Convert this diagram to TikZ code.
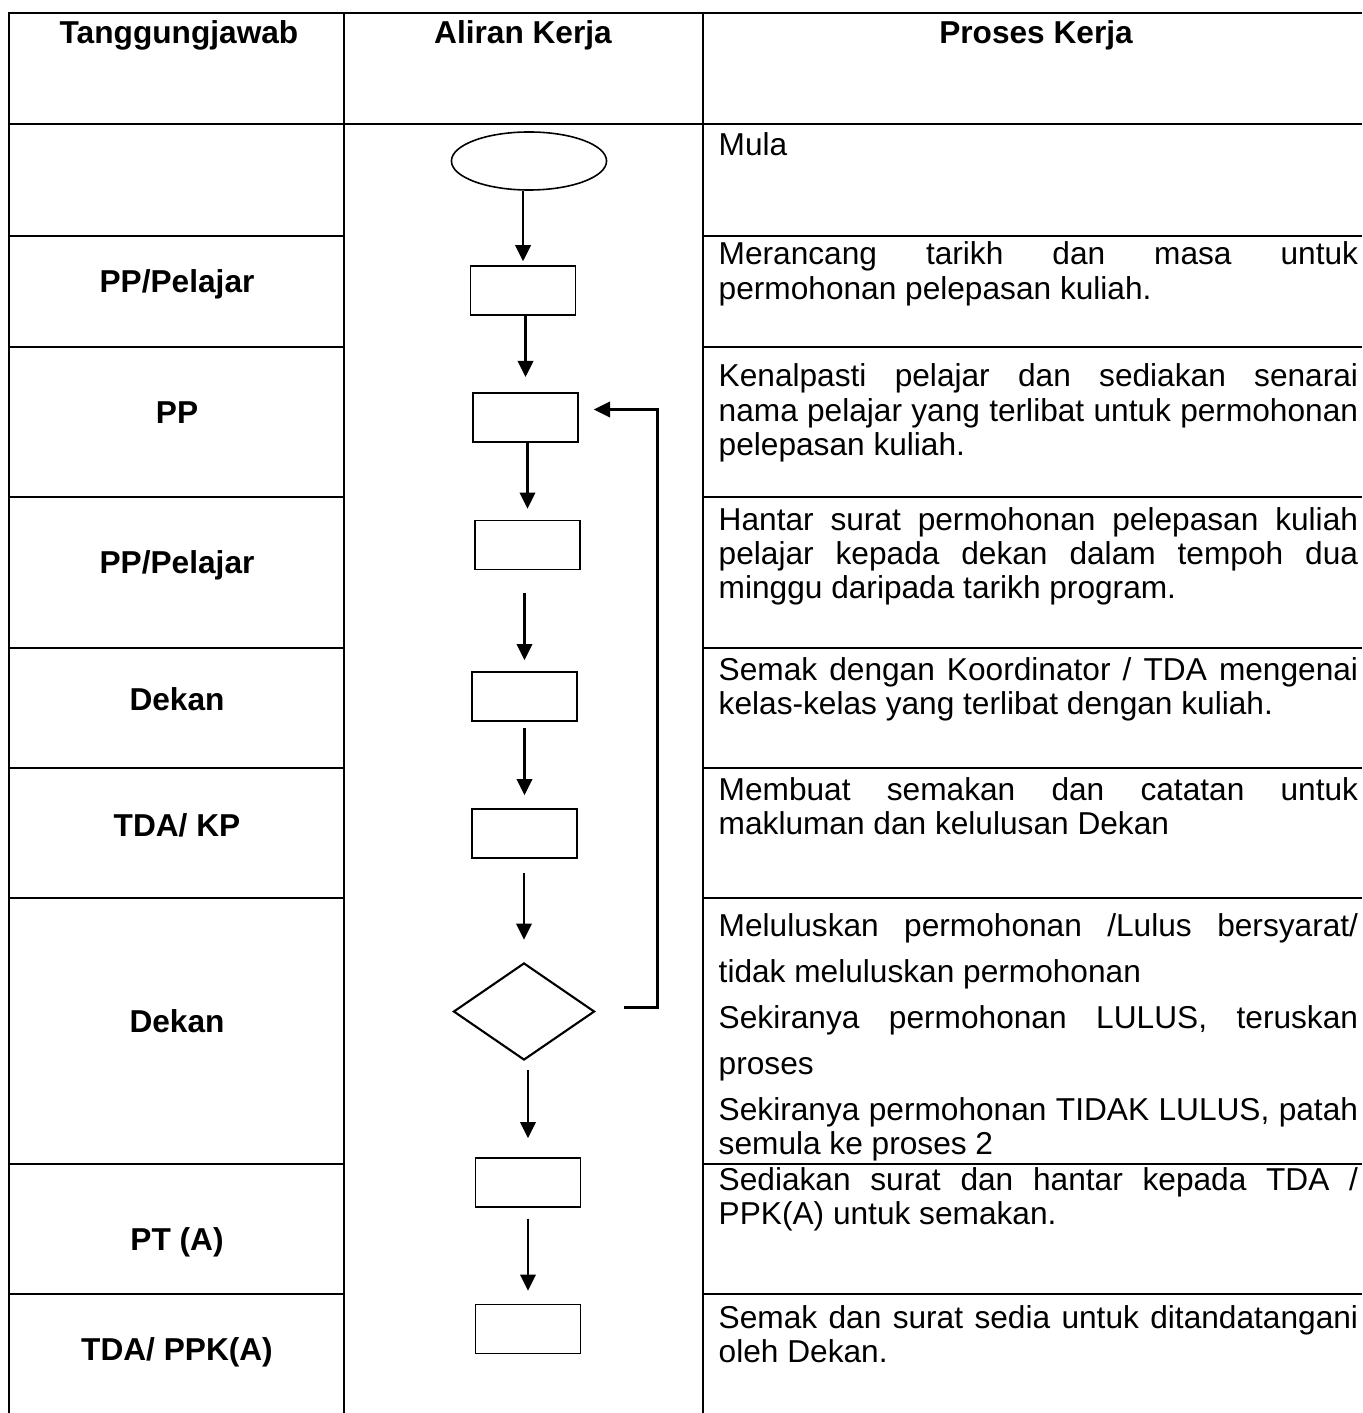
\documentclass[tikz,border=0pt]{standalone}
\usepackage{fontspec}
\setmainfont{Liberation Sans}
\usetikzlibrary{shapes,arrows.meta,positioning,calc}

\begin{document}
\begin{tikzpicture}[x=0.01cm, y=-0.01cm,
    grid/.style={line width=0.7pt},
    box/.style={draw, line width=0.45pt, minimum width=1.05cm, minimum height=0.49cm, inner sep=0},
    flow/.style={-{Triangle[length=4.6pt,width=4.4pt]}, line width=0.65pt},
    role/.style={anchor=base, inner sep=0, font=\fontsize{9}{10}\selectfont\bfseries},
    desc/.style={anchor=base west, inner sep=0, text width=6.39cm, align=justify, font=\fontsize{9}{9.7}\selectfont}]
  \useasboundingbox (0,0) rectangle (1362,1413);

  % table
  \draw[grid] (9,1413) -- (9,13) -- (1362,13);
  \draw[grid] (9,124) -- (1362,124);
  \draw[grid] (344,13) -- (344,1413);
  \draw[grid] (703,13) -- (703,1413);
  \foreach \y in {236,347,497,648,768,898,1164,1294} {
    \draw[grid] (9,\y) -- (344,\y);
    \draw[grid] (703,\y) -- (1362,\y);
  }

  % headers
  \node[role] (h1) at (179,44) {Tanggungjawab};
  \node[role] (h2) at (523,44) {Aliran Kerja};
  \node[role] (h3) at (1036,44) {Proses Kerja};

  % tanggungjawab
  \foreach \y/\t [count=\i] in {293/{PP/Pelajar}, 424/PP, 573/{PP/Pelajar}, 710/Dekan,
      836/{TDA/ KP}, 1032/Dekan, 1250/PT (A), 1360/{TDA/ PPK(A)}}
    \node[role] (role\i) at (177,\y) {\t};

  % aliran kerja
  \node[ellipse, draw, line width=0.45pt, minimum width=1.55cm, minimum height=0.58cm, inner sep=0] (mula) at (529,161) {};
  \node[box] (b1) at (523,290.5) {};
  \node[box] (b2) at (525.5,417.5) {};
  \node[box] (b3) at (527.5,545) {};
  \node[box] (b4) at (524.5,696.5) {};
  \node[box] (b5) at (524.5,833.5) {};
  \node[diamond, draw, line width=0.6pt, minimum width=1.41cm, minimum height=0.97cm, inner sep=0] (dec) at (524,1011.5) {};
  \node[box] (b6) at (528,1182.5) {};
  \node[box] (b7) at (528,1329) {};

  \foreach \a/\b/\s/\e in {mula/b1/0pt/1.1pt, b1/b2/0pt/4.3pt, b2/b3/0pt/3.1pt, b3/b4/6.5pt/3.1pt,
      b4/b5/1.7pt/3.7pt, b5/dec/4pt/6.3pt, dec/b6/2.6pt/5.4pt, b6/b7/3.1pt/3.7pt}
    \draw[flow, shorten <=\s, shorten >=\e] (\b |- \a.south) -- (\b.north);

  \draw[flow, line width=0.7pt] ($(dec.east)+(28,-4)$) -- ++(34,0) |- ($(b2.east)+(15,-8)$);

  % proses kerja
  \node[desc] (d0) at (718,156) {Mula};
  \node[desc] (d1) at (718,265) {Merancang tarikh dan masa untuk\linebreak permohonan pelepasan kuliah.};
  \node[desc] (d2) at (718,387) {Kenalpasti pelajar dan sediakan senarai\linebreak nama pelajar yang terlibat untuk permohonan\linebreak pelepasan kuliah.};
  \node[desc] (d3) at (718,530) {Hantar surat permohonan pelepasan kuliah\linebreak pelajar kepada dekan dalam tempoh dua\linebreak minggu daripada tarikh program.};
  \node[desc] (d4) at (718,680) {Semak dengan Koordinator / TDA mengenai\linebreak kelas-kelas yang terlibat dengan kuliah.};
  \node[desc] (d5) at (718,800) {Membuat semakan dan catatan untuk\linebreak makluman dan kelulusan Dekan};
  \node[desc] (d6) at (718,936) {\fontsize{9}{13.1}\selectfont
    Meluluskan permohonan /Lulus bersyarat/\linebreak tidak meluluskan permohonan\par
    Sekiranya permohonan LULUS, teruskan\linebreak proses\par
    \vspace{3.4pt}\fontsize{9}{9.7}\selectfont
    Sekiranya permohonan TIDAK LULUS, patah\linebreak semula ke proses 2\par};
  \node[desc] (d7) at (718,1190) {Sediakan surat dan hantar kepada TDA /\linebreak PPK(A) untuk semakan.};
  \node[desc] (d8) at (718,1328) {Semak dan surat sedia untuk ditandatangani\linebreak oleh Dekan.};
\end{tikzpicture}
\end{document}
